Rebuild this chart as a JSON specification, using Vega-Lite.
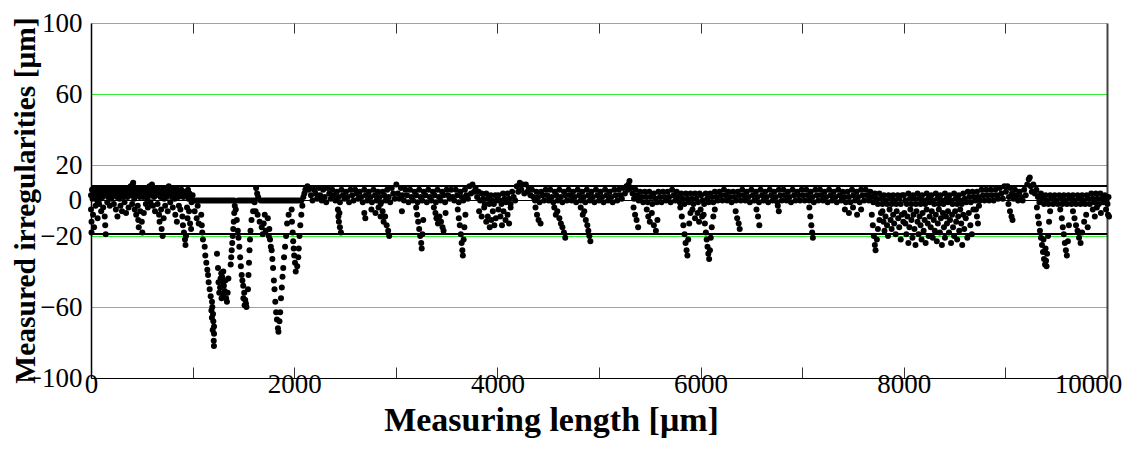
{
"$schema":"https://vega.github.io/schema/vega-lite/v6.json",
"width":1016,"height":355,
"autosize":{"type":"none"},
"padding":{"left":91,"top":23,"right":23,"bottom":71},
"background":"white",
"config":{"view":{"stroke":null},"axis":{"labelColor":"black","titleColor":"black"}},
"datasets":{
"lim":[{"v":8.2},{"v":-18.9}],
"zero":[{"v":0}],
"pts":[
{"x":0,"y":3},{"x":0,"y":-5},{"x":5,"y":-12},{"x":5,"y":-18},{"x":10,"y":6},{"x":15,"y":1},{"x":20,"y":-8},{"x":25,"y":4},{"x":30,"y":-15},{"x":35,"y":6},{"x":40,"y":2},{"x":45,"y":-3},{"x":50,"y":5},{"x":55,"y":7},{"x":60,"y":0},{"x":65,"y":-10},{"x":70,"y":4},{"x":75,"y":6},{"x":80,"y":-2},{"x":85,"y":3},{"x":90,"y":6},{"x":95,"y":1},{"x":100,"y":-6},{"x":105,"y":5},{"x":110,"y":7},{"x":115,"y":2},{"x":120,"y":-4},{"x":125,"y":6},{"x":130,"y":3},{"x":135,"y":-9},{"x":140,"y":-14},{"x":145,"y":-19},{"x":150,"y":4},{"x":155,"y":6},{"x":160,"y":-1},{"x":165,"y":5},{"x":170,"y":2},{"x":175,"y":7},{"x":180,"y":3},{"x":185,"y":-3},{"x":190,"y":5},{"x":195,"y":6},{"x":200,"y":1},{"x":210,"y":4},{"x":220,"y":6},{"x":225,"y":-2},{"x":230,"y":3},{"x":240,"y":5},{"x":245,"y":-5},{"x":250,"y":6},{"x":255,"y":2},{"x":260,"y":-9},{"x":265,"y":4},{"x":270,"y":6},{"x":280,"y":1},{"x":285,"y":5},{"x":290,"y":-3},{"x":295,"y":7},{"x":300,"y":3},{"x":305,"y":-6},{"x":310,"y":5},{"x":320,"y":2},{"x":325,"y":6},{"x":330,"y":-1},{"x":340,"y":4},{"x":345,"y":-7},{"x":350,"y":6},{"x":360,"y":2},{"x":365,"y":5},{"x":370,"y":-4},{"x":380,"y":7},{"x":385,"y":3},{"x":390,"y":8},{"x":400,"y":5},{"x":405,"y":-2},{"x":410,"y":9},{"x":415,"y":10},{"x":420,"y":6},{"x":425,"y":1},{"x":430,"y":-5},{"x":435,"y":4},{"x":440,"y":6},{"x":445,"y":-8},{"x":450,"y":3},{"x":455,"y":5},{"x":460,"y":-3},{"x":465,"y":-11},{"x":470,"y":-15},{"x":475,"y":6},{"x":480,"y":2},{"x":485,"y":-6},{"x":490,"y":4},{"x":495,"y":7},{"x":500,"y":-12},{"x":505,"y":-18},{"x":510,"y":5},{"x":515,"y":2},{"x":520,"y":-7},{"x":525,"y":6},{"x":530,"y":3},{"x":540,"y":-2},{"x":545,"y":5},{"x":550,"y":7},{"x":555,"y":1},{"x":560,"y":-4},{"x":565,"y":6},{"x":570,"y":4},{"x":575,"y":8},{"x":580,"y":3},{"x":585,"y":-1},{"x":590,"y":5},{"x":600,"y":9},{"x":605,"y":4},{"x":610,"y":-3},{"x":615,"y":6},{"x":620,"y":2},{"x":630,"y":-6},{"x":635,"y":5},{"x":640,"y":3},{"x":650,"y":7},{"x":655,"y":-2},{"x":660,"y":4},{"x":665,"y":6},{"x":670,"y":-8},{"x":675,"y":-12},{"x":680,"y":5},{"x":685,"y":2},{"x":690,"y":-5},{"x":695,"y":-16},{"x":700,"y":6},{"x":705,"y":-20},{"x":710,"y":4},{"x":715,"y":-10},{"x":720,"y":1},{"x":725,"y":6},{"x":730,"y":-3},{"x":740,"y":5},{"x":745,"y":2},{"x":750,"y":7},{"x":755,"y":-6},{"x":760,"y":4},{"x":765,"y":8},{"x":770,"y":3},{"x":780,"y":-1},{"x":785,"y":5},{"x":790,"y":6},{"x":800,"y":2},{"x":805,"y":-4},{"x":810,"y":5},{"x":820,"y":7},{"x":825,"y":1},{"x":830,"y":-8},{"x":840,"y":4},{"x":845,"y":-12},{"x":850,"y":6},{"x":860,"y":2},{"x":865,"y":-3},{"x":870,"y":5},{"x":880,"y":-5},{"x":885,"y":3},{"x":890,"y":6},{"x":900,"y":-9},{"x":905,"y":-14},{"x":910,"y":2},{"x":915,"y":-18},{"x":920,"y":5},{"x":925,"y":-22},{"x":930,"y":-25},{"x":935,"y":-20},{"x":940,"y":3},{"x":945,"y":-4},{"x":950,"y":-10},{"x":955,"y":6},{"x":960,"y":1},{"x":965,"y":-6},{"x":970,"y":4},{"x":975,"y":-13},{"x":980,"y":2},{"x":985,"y":-16},{"x":990,"y":-1},{"x":1000,"y":3},
{"x":1010,"y":0},{"x":1030,"y":0},{"x":1050,"y":0},{"x":1070,"y":0},{"x":1090,"y":0},{"x":1110,"y":0},{"x":1130,"y":0},{"x":1150,"y":0},{"x":1170,"y":0},{"x":1190,"y":0},{"x":1210,"y":0},{"x":1230,"y":0},{"x":1250,"y":0},{"x":1270,"y":0},{"x":1290,"y":0},{"x":1310,"y":0},{"x":1330,"y":0},{"x":1350,"y":0},{"x":1370,"y":0},{"x":1390,"y":0},{"x":1410,"y":0},{"x":1450,"y":0},{"x":1470,"y":0},{"x":1490,"y":0},{"x":1510,"y":0},{"x":1530,"y":0},{"x":1550,"y":0},{"x":1570,"y":0},{"x":1590,"y":0},{"x":1610,"y":0},{"x":1670,"y":0},{"x":1690,"y":0},{"x":1710,"y":0},{"x":1730,"y":0},{"x":1750,"y":0},{"x":1770,"y":0},{"x":1790,"y":0},{"x":1810,"y":0},{"x":1830,"y":0},{"x":1850,"y":0},{"x":1870,"y":0},{"x":1890,"y":0},{"x":1910,"y":0},{"x":1930,"y":0},{"x":1950,"y":0},{"x":1970,"y":0},{"x":1990,"y":0},{"x":2010,"y":0},{"x":2030,"y":0},{"x":2050,"y":0},{"x":2070,"y":0},
{"x":1020,"y":-6},{"x":1040,"y":-10},{"x":1060,"y":-13},{"x":1050,"y":-3},{"x":1085,"y":-8},{"x":1090,"y":-14},{"x":1095,"y":-18},{"x":1102,"y":-22},{"x":1119,"y":-26},{"x":1125,"y":-31},{"x":1135,"y":-35},{"x":1145,"y":-39},{"x":1152,"y":-42},{"x":1158,"y":-46},{"x":1168,"y":-50},{"x":1178,"y":-54},{"x":1191,"y":-57},{"x":1194,"y":-60},{"x":1201,"y":-64},{"x":1204,"y":-68},{"x":1211,"y":-71},{"x":1211,"y":-75},{"x":1208,"y":-79},{"x":1210,"y":-82},{"x":1185,"y":-62},{"x":1190,"y":-66},{"x":1198,"y":-73},
{"x":1240,"y":-30},{"x":1250,"y":-38},{"x":1255,"y":-46},{"x":1262,"y":-52},{"x":1270,"y":-49},{"x":1275,"y":-44},{"x":1282,"y":-41},{"x":1290,"y":-43},{"x":1296,"y":-46},{"x":1302,"y":-40},{"x":1308,"y":-48},{"x":1315,"y":-51},{"x":1322,"y":-45},{"x":1330,"y":-55},{"x":1338,"y":-57},{"x":1345,"y":-52},{"x":1352,"y":-44},{"x":1285,"y":-55},{"x":1300,"y":-53},
{"x":1375,"y":-36},{"x":1380,"y":-32},{"x":1385,"y":-28},{"x":1390,"y":-24},{"x":1395,"y":-20},{"x":1400,"y":-16},{"x":1405,"y":-12},{"x":1410,"y":-7},{"x":1415,"y":-3},
{"x":1425,"y":-5},{"x":1435,"y":-11},{"x":1445,"y":-17},{"x":1452,"y":-21},{"x":1460,"y":-26},{"x":1468,"y":-32},{"x":1475,"y":-37},{"x":1483,"y":-42},{"x":1490,"y":-45},{"x":1498,"y":-48},{"x":1508,"y":-52},{"x":1518,"y":-56},{"x":1525,"y":-58},{"x":1530,"y":-60},{"x":1500,"y":-55},{"x":1512,"y":-59},
{"x":1545,"y":-50},{"x":1550,"y":-42},{"x":1555,"y":-35},{"x":1560,"y":-28},{"x":1565,"y":-22},{"x":1570,"y":-17},{"x":1580,"y":-11},{"x":1595,"y":-6},{"x":1610,"y":-1},{"x":1625,"y":7},{"x":1635,"y":4},{"x":1645,"y":2},
{"x":1620,"y":-6},{"x":1640,"y":-8},{"x":1660,"y":-12},{"x":1680,"y":-15},{"x":1690,"y":-19},{"x":1700,"y":-13},{"x":1710,"y":-8},{"x":1720,"y":-17},{"x":1740,"y":-10},{"x":1750,"y":-20},
{"x":1755,"y":-16},{"x":1762,"y":-22},{"x":1770,"y":-26},{"x":1778,"y":-28},{"x":1785,"y":-33},{"x":1792,"y":-38},{"x":1800,"y":-45},{"x":1806,"y":-50},{"x":1814,"y":-57},{"x":1822,"y":-63},{"x":1830,"y":-67},{"x":1840,"y":-72},{"x":1845,"y":-74},{"x":1855,"y":-68},{"x":1862,"y":-63},{"x":1870,"y":-55},{"x":1878,"y":-49},{"x":1885,"y":-43},{"x":1892,"y":-38},{"x":1900,"y":-32},{"x":1910,"y":-26},{"x":1920,"y":-20},{"x":1930,"y":-13},{"x":1945,"y":-8},
{"x":1975,"y":-5},{"x":1978,"y":-12},{"x":1985,"y":-18},{"x":1990,"y":-23},{"x":1995,"y":-27},{"x":2000,"y":-31},{"x":2008,"y":-35},{"x":2015,"y":-40},{"x":2030,"y":-37},{"x":2040,"y":-32},{"x":2045,"y":-27},{"x":2052,"y":-20},{"x":2060,"y":-14},{"x":2070,"y":-8},{"x":2080,"y":-3},{"x":2090,"y":2},{"x":2100,"y":4},{"x":2110,"y":6},{"x":2120,"y":7},{"x":2130,"y":8},{"x":2140,"y":6},
{"x":2150,"y":7},{"x":2165,"y":3},{"x":2180,"y":0},{"x":2195,"y":6},{"x":2210,"y":4},{"x":2225,"y":1},{"x":2240,"y":7},{"x":2255,"y":3},{"x":2270,"y":0},{"x":2285,"y":6},{"x":2300,"y":2},{"x":2315,"y":-1},{"x":2330,"y":7},{"x":2345,"y":4},{"x":2360,"y":1},{"x":2375,"y":6},{"x":2390,"y":3},{"x":2405,"y":0},{"x":2420,"y":5},{"x":2435,"y":2},{"x":2450,"y":-1},{"x":2465,"y":6},{"x":2480,"y":3},{"x":2495,"y":1},{"x":2510,"y":5},{"x":2525,"y":2},{"x":2540,"y":-1},{"x":2555,"y":6},{"x":2570,"y":3},{"x":2585,"y":0},{"x":2600,"y":6},{"x":2615,"y":4},{"x":2630,"y":1},{"x":2645,"y":5},{"x":2660,"y":2},{"x":2675,"y":-1},{"x":2690,"y":6},{"x":2705,"y":3},{"x":2720,"y":0},{"x":2735,"y":5},{"x":2750,"y":2},{"x":2765,"y":-1},{"x":2780,"y":6},{"x":2795,"y":3},{"x":2810,"y":0},{"x":2825,"y":5},{"x":2840,"y":2},{"x":2855,"y":-1},{"x":2870,"y":5},{"x":2885,"y":3},{"x":2900,"y":0},{"x":2915,"y":6},{"x":2930,"y":2},{"x":2945,"y":-1},{"x":2960,"y":7},{"x":2975,"y":4},{"x":2990,"y":1},
{"x":2430,"y":-5},{"x":2435,"y":-9},{"x":2440,"y":-12},{"x":2450,"y":-15},{"x":2460,"y":-18},{"x":2445,"y":-7},{"x":2690,"y":-7},{"x":2700,"y":-10},{"x":2760,"y":-5},{"x":2800,"y":-7},{"x":2830,"y":-4},{"x":2850,"y":-9},{"x":2870,"y":-6},{"x":2880,"y":-12},{"x":2895,"y":-9},{"x":2910,"y":-14},{"x":2925,"y":-17},{"x":2935,"y":-20},{"x":2850,"y":-2},
{"x":3005,"y":9},{"x":3020,"y":4},{"x":3035,"y":1},{"x":3050,"y":7},{"x":3065,"y":3},{"x":3080,"y":0},{"x":3095,"y":6},{"x":3110,"y":3},{"x":3125,"y":-1},{"x":3140,"y":6},{"x":3155,"y":2},{"x":3170,"y":0},{"x":3185,"y":5},{"x":3200,"y":3},{"x":3215,"y":-1},{"x":3230,"y":6},{"x":3245,"y":2},{"x":3260,"y":0},{"x":3275,"y":5},{"x":3290,"y":3},{"x":3305,"y":-1},{"x":3320,"y":6},{"x":3335,"y":2},{"x":3350,"y":0},{"x":3365,"y":5},{"x":3380,"y":3},{"x":3395,"y":-1},{"x":3410,"y":6},{"x":3425,"y":2},{"x":3440,"y":0},{"x":3455,"y":5},{"x":3470,"y":3},{"x":3485,"y":-1},{"x":3500,"y":6},{"x":3515,"y":3},{"x":3530,"y":1},{"x":3545,"y":6},{"x":3560,"y":2},{"x":3575,"y":0},{"x":3590,"y":6},{"x":3605,"y":3},{"x":3620,"y":-1},{"x":3635,"y":5},{"x":3650,"y":2},{"x":3665,"y":0},{"x":3680,"y":6},{"x":3695,"y":3},{"x":3710,"y":1},{"x":3725,"y":8},{"x":3740,"y":4},{"x":3755,"y":9},{"x":3770,"y":5},{"x":3785,"y":7},{"x":3800,"y":2},{"x":3815,"y":5},{"x":3830,"y":0},{"x":3845,"y":4},{"x":3860,"y":1},{"x":3875,"y":-2},{"x":3890,"y":4},{"x":3905,"y":1},{"x":3920,"y":-2},{"x":3935,"y":3},{"x":3950,"y":0},{"x":3965,"y":-2},{"x":3980,"y":3},{"x":3995,"y":0},
{"x":3060,"y":-6},{"x":3200,"y":-4},{"x":3210,"y":-8},{"x":3220,"y":-12},{"x":3230,"y":-16},{"x":3240,"y":-20},{"x":3250,"y":-24},{"x":3255,"y":-27},{"x":3262,"y":-19},{"x":3270,"y":-11},{"x":3375,"y":-4},{"x":3390,"y":-7},{"x":3400,"y":-10},{"x":3415,"y":-13},{"x":3430,"y":-9},{"x":3445,"y":-12},{"x":3460,"y":-15},{"x":3470,"y":-17},{"x":3490,"y":-7},{"x":3610,"y":-5},{"x":3620,"y":-10},{"x":3630,"y":-14},{"x":3640,"y":-19},{"x":3648,"y":-24},{"x":3655,"y":-28},{"x":3660,"y":-31},{"x":3668,"y":-22},{"x":3675,"y":-15},{"x":3685,"y":-8},{"x":3820,"y":-6},{"x":3845,"y":-9},{"x":3870,"y":-4},{"x":3890,"y":-12},{"x":3905,"y":-9},{"x":3925,"y":-15},{"x":3940,"y":-11},{"x":3955,"y":-6},{"x":3970,"y":-14},{"x":3985,"y":-10},
{"x":4010,"y":3},{"x":4025,"y":0},{"x":4040,"y":-2},{"x":4055,"y":4},{"x":4070,"y":1},{"x":4085,"y":-1},{"x":4100,"y":4},{"x":4115,"y":1},{"x":4130,"y":-2},{"x":4145,"y":5},{"x":4160,"y":2},{"x":4175,"y":0},{"x":4190,"y":8},{"x":4205,"y":5},{"x":4220,"y":10},{"x":4235,"y":6},{"x":4250,"y":9},{"x":4265,"y":4},{"x":4280,"y":9},{"x":4295,"y":5},{"x":4310,"y":7},{"x":4325,"y":3},{"x":4340,"y":6},{"x":4355,"y":2},{"x":4370,"y":0},{"x":4385,"y":5},{"x":4400,"y":2},{"x":4415,"y":-1},{"x":4430,"y":5},{"x":4445,"y":3},{"x":4460,"y":0},{"x":4475,"y":6},{"x":4490,"y":3},{"x":4505,"y":0},{"x":4520,"y":6},{"x":4535,"y":2},{"x":4550,"y":-1},{"x":4565,"y":5},{"x":4580,"y":3},{"x":4595,"y":0},{"x":4610,"y":6},{"x":4625,"y":2},{"x":4640,"y":-1},{"x":4655,"y":5},{"x":4670,"y":3},{"x":4685,"y":0},{"x":4700,"y":6},{"x":4715,"y":3},{"x":4730,"y":0},{"x":4745,"y":5},{"x":4760,"y":2},{"x":4775,"y":-1},{"x":4790,"y":6},{"x":4805,"y":3},{"x":4820,"y":0},{"x":4835,"y":5},{"x":4850,"y":2},{"x":4865,"y":-1},{"x":4880,"y":6},{"x":4895,"y":3},{"x":4910,"y":0},{"x":4925,"y":5},{"x":4940,"y":2},{"x":4955,"y":-1},{"x":4970,"y":6},{"x":4985,"y":3},{"x":5000,"y":0},
{"x":4010,"y":-5},{"x":4030,"y":-9},{"x":4045,"y":-14},{"x":4060,"y":-6},{"x":4080,"y":-11},{"x":4100,"y":-8},{"x":4115,"y":-13},{"x":4130,"y":-4},{"x":4375,"y":-4},{"x":4390,"y":-8},{"x":4405,"y":-11},{"x":4425,"y":-13},{"x":4560,"y":-4},{"x":4575,"y":-8},{"x":4590,"y":-6},{"x":4610,"y":-10},{"x":4625,"y":-13},{"x":4640,"y":-15},{"x":4655,"y":-18},{"x":4668,"y":-21},{"x":4820,"y":-4},{"x":4840,"y":-8},{"x":4855,"y":-6},{"x":4870,"y":-11},{"x":4885,"y":-14},{"x":4895,"y":-17},{"x":4905,"y":-20},{"x":4915,"y":-23},
{"x":5015,"y":5},{"x":5030,"y":2},{"x":5045,"y":-1},{"x":5060,"y":6},{"x":5075,"y":3},{"x":5090,"y":0},{"x":5105,"y":5},{"x":5120,"y":2},{"x":5135,"y":-1},{"x":5150,"y":6},{"x":5165,"y":3},{"x":5180,"y":0},{"x":5195,"y":6},{"x":5210,"y":3},{"x":5225,"y":1},{"x":5240,"y":7},{"x":5255,"y":4},{"x":5270,"y":8},{"x":5285,"y":6},{"x":5300,"y":11},{"x":5315,"y":7},{"x":5330,"y":4},{"x":5345,"y":1},{"x":5360,"y":6},{"x":5375,"y":3},{"x":5390,"y":0},{"x":5405,"y":5},{"x":5420,"y":2},{"x":5435,"y":-1},{"x":5450,"y":5},{"x":5465,"y":2},{"x":5480,"y":-1},{"x":5495,"y":5},{"x":5510,"y":2},{"x":5525,"y":-2},{"x":5540,"y":4},{"x":5555,"y":1},{"x":5570,"y":-1},{"x":5585,"y":5},{"x":5600,"y":2},{"x":5615,"y":-1},{"x":5630,"y":5},{"x":5645,"y":2},{"x":5660,"y":0},{"x":5675,"y":5},{"x":5690,"y":2},{"x":5705,"y":-1},{"x":5720,"y":6},{"x":5735,"y":3},{"x":5750,"y":0},{"x":5765,"y":5},{"x":5780,"y":2},{"x":5795,"y":-1},{"x":5810,"y":4},{"x":5825,"y":1},{"x":5840,"y":-2},{"x":5855,"y":4},{"x":5870,"y":1},{"x":5885,"y":-1},{"x":5900,"y":4},{"x":5915,"y":1},{"x":5930,"y":-2},{"x":5945,"y":4},{"x":5960,"y":1},{"x":5975,"y":-1},{"x":5990,"y":4},
{"x":5290,"y":9},{"x":5340,"y":-4},{"x":5355,"y":-8},{"x":5370,"y":-11},{"x":5385,"y":-15},{"x":5470,"y":-5},{"x":5485,"y":-9},{"x":5500,"y":-12},{"x":5520,"y":-7},{"x":5540,"y":-14},{"x":5560,"y":-17},{"x":5575,"y":-11},{"x":5800,"y":-4},{"x":5815,"y":-9},{"x":5830,"y":-14},{"x":5842,"y":-19},{"x":5852,"y":-24},{"x":5862,"y":-28},{"x":5870,"y":-31},{"x":5878,"y":-22},{"x":5888,"y":-13},{"x":5900,"y":-7},{"x":5920,"y":-5},{"x":5945,"y":-10},{"x":5970,"y":-7},{"x":5985,"y":-12},
{"x":6005,"y":3},{"x":6020,"y":0},{"x":6035,"y":-2},{"x":6050,"y":4},{"x":6065,"y":1},{"x":6080,"y":-1},{"x":6095,"y":4},{"x":6110,"y":2},{"x":6125,"y":-1},{"x":6140,"y":5},{"x":6155,"y":2},{"x":6170,"y":0},{"x":6185,"y":5},{"x":6200,"y":3},{"x":6215,"y":0},{"x":6230,"y":6},{"x":6245,"y":3},{"x":6260,"y":0},{"x":6275,"y":5},{"x":6290,"y":2},{"x":6305,"y":-1},{"x":6320,"y":5},{"x":6335,"y":2},{"x":6350,"y":0},{"x":6365,"y":5},{"x":6380,"y":3},{"x":6395,"y":0},{"x":6410,"y":6},{"x":6425,"y":3},{"x":6440,"y":0},{"x":6455,"y":5},{"x":6470,"y":2},{"x":6485,"y":-1},{"x":6500,"y":6},{"x":6515,"y":3},{"x":6530,"y":0},{"x":6545,"y":5},{"x":6560,"y":2},{"x":6575,"y":-1},{"x":6590,"y":6},{"x":6605,"y":3},{"x":6620,"y":0},{"x":6635,"y":5},{"x":6650,"y":2},{"x":6665,"y":-1},{"x":6680,"y":6},{"x":6695,"y":3},{"x":6710,"y":0},{"x":6725,"y":5},{"x":6740,"y":2},{"x":6755,"y":-1},{"x":6770,"y":6},{"x":6785,"y":3},{"x":6800,"y":0},{"x":6815,"y":6},{"x":6830,"y":3},{"x":6845,"y":0},{"x":6860,"y":5},{"x":6875,"y":2},{"x":6890,"y":-1},{"x":6905,"y":6},{"x":6920,"y":3},{"x":6935,"y":0},{"x":6950,"y":5},{"x":6965,"y":3},{"x":6980,"y":0},{"x":6995,"y":6},
{"x":6000,"y":-5},{"x":6015,"y":-9},{"x":6030,"y":-8},{"x":6042,"y":-13},{"x":6052,"y":-18},{"x":6060,"y":-22},{"x":6068,"y":-26},{"x":6076,"y":-30},{"x":6084,"y":-33},{"x":6092,"y":-28},{"x":6100,"y":-21},{"x":6110,"y":-15},{"x":6125,"y":-9},{"x":6140,"y":-5},{"x":6345,"y":-6},{"x":6360,"y":-10},{"x":6375,"y":-13},{"x":6385,"y":-16},{"x":6550,"y":-5},{"x":6565,"y":-9},{"x":6578,"y":-14},{"x":6770,"y":-6},{"x":6760,"y":-3},
{"x":7010,"y":3},{"x":7025,"y":0},{"x":7040,"y":6},{"x":7055,"y":3},{"x":7070,"y":0},{"x":7085,"y":5},{"x":7100,"y":2},{"x":7115,"y":-1},{"x":7130,"y":6},{"x":7145,"y":3},{"x":7160,"y":0},{"x":7175,"y":6},{"x":7190,"y":3},{"x":7205,"y":0},{"x":7220,"y":5},{"x":7235,"y":2},{"x":7250,"y":-1},{"x":7265,"y":6},{"x":7280,"y":3},{"x":7295,"y":0},{"x":7310,"y":5},{"x":7325,"y":2},{"x":7340,"y":-1},{"x":7355,"y":6},{"x":7370,"y":3},{"x":7385,"y":0},{"x":7400,"y":5},{"x":7415,"y":2},{"x":7430,"y":-1},{"x":7445,"y":5},{"x":7460,"y":2},{"x":7475,"y":-1},{"x":7490,"y":6},{"x":7505,"y":3},{"x":7520,"y":0},{"x":7535,"y":5},{"x":7550,"y":2},{"x":7565,"y":-1},{"x":7580,"y":6},{"x":7595,"y":3},{"x":7610,"y":0},{"x":7625,"y":6},{"x":7640,"y":3},{"x":7655,"y":0},{"x":7670,"y":5},{"x":7685,"y":2},{"x":7700,"y":-1},{"x":7715,"y":4},{"x":7730,"y":1},{"x":7745,"y":-2},{"x":7760,"y":4},{"x":7775,"y":1},{"x":7790,"y":-2},{"x":7805,"y":3},{"x":7820,"y":0},{"x":7835,"y":-2},{"x":7850,"y":3},{"x":7865,"y":1},{"x":7880,"y":-2},{"x":7895,"y":3},{"x":7910,"y":0},{"x":7925,"y":-2},{"x":7940,"y":3},{"x":7955,"y":1},{"x":7970,"y":-2},{"x":7985,"y":3},
{"x":7070,"y":-4},{"x":7080,"y":-9},{"x":7090,"y":-14},{"x":7098,"y":-18},{"x":7105,"y":-21},{"x":7420,"y":-5},{"x":7460,"y":-7},{"x":7500,"y":-4},{"x":7540,"y":-8},{"x":7580,"y":-5},{"x":7685,"y":-8},{"x":7695,"y":-14},{"x":7705,"y":-20},{"x":7715,"y":-25},{"x":7722,"y":-28},{"x":7735,"y":-22},{"x":7745,"y":-16},{"x":7760,"y":-11},{"x":7775,"y":-7},{"x":7790,"y":-6},{"x":7800,"y":-12},{"x":7810,"y":-17},{"x":7820,"y":-9},{"x":7835,"y":-14},{"x":7845,"y":-20},{"x":7860,"y":-5},{"x":7870,"y":-11},{"x":7880,"y":-16},{"x":7895,"y":-8},{"x":7905,"y":-13},{"x":7920,"y":-19},{"x":7930,"y":-6},{"x":7945,"y":-10},{"x":7955,"y":-15},{"x":7970,"y":-22},{"x":7980,"y":-8},{"x":7995,"y":-12},
{"x":8000,"y":3},{"x":8015,"y":0},{"x":8030,"y":-2},{"x":8045,"y":4},{"x":8060,"y":1},{"x":8075,"y":-2},{"x":8090,"y":3},{"x":8105,"y":1},{"x":8120,"y":-2},{"x":8135,"y":4},{"x":8150,"y":1},{"x":8165,"y":-2},{"x":8180,"y":3},{"x":8195,"y":0},{"x":8210,"y":-2},{"x":8225,"y":4},{"x":8240,"y":1},{"x":8255,"y":-1},{"x":8270,"y":3},{"x":8285,"y":0},{"x":8300,"y":-2},{"x":8315,"y":4},{"x":8330,"y":1},{"x":8345,"y":-2},{"x":8360,"y":3},{"x":8375,"y":0},{"x":8390,"y":-2},{"x":8405,"y":4},{"x":8420,"y":1},{"x":8435,"y":-1},{"x":8450,"y":3},{"x":8465,"y":0},{"x":8480,"y":-2},{"x":8495,"y":4},{"x":8510,"y":1},{"x":8525,"y":-2},{"x":8540,"y":3},{"x":8555,"y":0},{"x":8570,"y":-2},{"x":8585,"y":4},{"x":8600,"y":1},{"x":8615,"y":-1},{"x":8630,"y":5},{"x":8645,"y":2},{"x":8660,"y":-1},{"x":8675,"y":5},{"x":8690,"y":2},{"x":8705,"y":0},{"x":8720,"y":5},{"x":8735,"y":2},{"x":8750,"y":0},{"x":8765,"y":6},{"x":8780,"y":3},{"x":8795,"y":0},{"x":8810,"y":6},{"x":8825,"y":3},{"x":8840,"y":0},{"x":8855,"y":6},{"x":8870,"y":3},{"x":8885,"y":0},{"x":8900,"y":6},{"x":8915,"y":3},{"x":8930,"y":1},{"x":8945,"y":7},{"x":8960,"y":4},{"x":8975,"y":1},{"x":8990,"y":8},
{"x":8005,"y":-7},{"x":8015,"y":-13},{"x":8025,"y":-19},{"x":8035,"y":-9},{"x":8045,"y":-24},{"x":8055,"y":-15},{"x":8065,"y":-5},{"x":8075,"y":-11},{"x":8085,"y":-21},{"x":8095,"y":-8},{"x":8105,"y":-16},{"x":8115,"y":-25},{"x":8125,"y":-6},{"x":8135,"y":-12},{"x":8145,"y":-19},{"x":8155,"y":-9},{"x":8165,"y":-14},{"x":8175,"y":-22},{"x":8185,"y":-7},{"x":8195,"y":-17},{"x":8205,"y":-11},{"x":8215,"y":-24},{"x":8225,"y":-5},{"x":8235,"y":-13},{"x":8245,"y":-20},{"x":8255,"y":-9},{"x":8265,"y":-15},{"x":8275,"y":-6},{"x":8285,"y":-21},{"x":8295,"y":-11},{"x":8305,"y":-17},{"x":8315,"y":-8},{"x":8325,"y":-23},{"x":8335,"y":-13},{"x":8345,"y":-5},{"x":8355,"y":-18},{"x":8365,"y":-10},{"x":8375,"y":-25},{"x":8385,"y":-7},{"x":8395,"y":-15},{"x":8405,"y":-21},{"x":8415,"y":-9},{"x":8425,"y":-13},{"x":8435,"y":-6},{"x":8445,"y":-18},{"x":8455,"y":-11},{"x":8465,"y":-24},{"x":8475,"y":-8},{"x":8485,"y":-15},{"x":8495,"y":-20},{"x":8505,"y":-6},{"x":8515,"y":-12},{"x":8525,"y":-22},{"x":8535,"y":-9},{"x":8545,"y":-17},{"x":8555,"y":-5},{"x":8565,"y":-13},{"x":8575,"y":-25},{"x":8585,"y":-8},{"x":8595,"y":-16},{"x":8610,"y":-10},{"x":8625,"y":-21},{"x":8640,"y":-7},{"x":8655,"y":-14},{"x":8670,"y":-19},{"x":8685,"y":-5},{"x":8710,"y":-5},{"x":8720,"y":-9},{"x":8730,"y":-13},{"x":8740,"y":-3},{"x":9030,"y":-2},{"x":9045,"y":-6},{"x":9060,"y":-9},{"x":9070,"y":-11},
{"x":9005,"y":5},{"x":9020,"y":8},{"x":9035,"y":2},{"x":9050,"y":7},{"x":9065,"y":4},{"x":9080,"y":1},{"x":9095,"y":6},{"x":9110,"y":3},{"x":9125,"y":0},{"x":9140,"y":5},{"x":9155,"y":2},{"x":9170,"y":0},{"x":9185,"y":6},{"x":9200,"y":3},{"x":9215,"y":9},{"x":9230,"y":12},{"x":9240,"y":13},{"x":9250,"y":8},{"x":9260,"y":5},{"x":9275,"y":9},{"x":9290,"y":4},{"x":9305,"y":6},{"x":9320,"y":2},{"x":9335,"y":-1},{"x":9350,"y":4},{"x":9365,"y":1},{"x":9380,"y":-2},{"x":9395,"y":3},{"x":9410,"y":0},{"x":9425,"y":-2},{"x":9440,"y":3},{"x":9455,"y":1},{"x":9470,"y":-2},{"x":9485,"y":3},{"x":9500,"y":0},{"x":9515,"y":-2},{"x":9530,"y":3},{"x":9545,"y":1},{"x":9560,"y":-2},{"x":9575,"y":3},{"x":9590,"y":0},{"x":9605,"y":-2},{"x":9620,"y":3},{"x":9635,"y":1},{"x":9650,"y":-2},{"x":9665,"y":3},{"x":9680,"y":0},{"x":9695,"y":-2},{"x":9710,"y":3},{"x":9725,"y":1},{"x":9740,"y":-2},{"x":9755,"y":3},{"x":9770,"y":0},{"x":9785,"y":-2},{"x":9800,"y":3},{"x":9815,"y":1},{"x":9830,"y":-2},{"x":9845,"y":4},{"x":9860,"y":1},{"x":9875,"y":-1},{"x":9890,"y":4},{"x":9905,"y":1},{"x":9920,"y":-2},{"x":9935,"y":4},{"x":9950,"y":1},{"x":9965,"y":-1},{"x":9980,"y":3},{"x":9995,"y":0},{"x":10005,"y":-2},{"x":10015,"y":2},
{"x":9310,"y":-4},{"x":9320,"y":-9},{"x":9330,"y":-13},{"x":9340,"y":-17},{"x":9350,"y":-21},{"x":9360,"y":-25},{"x":9370,"y":-29},{"x":9380,"y":-33},{"x":9390,"y":-36},{"x":9400,"y":-34},{"x":9410,"y":-30},{"x":9375,"y":-22},{"x":9395,"y":-27},{"x":9405,"y":-37},{"x":9420,"y":-20},{"x":9430,"y":-12},{"x":9440,"y":-6},{"x":9540,"y":-5},{"x":9555,"y":-10},{"x":9565,"y":-15},{"x":9575,"y":-19},{"x":9585,"y":-24},{"x":9595,"y":-28},{"x":9605,"y":-31},{"x":9615,"y":-23},{"x":9625,"y":-14},{"x":9665,"y":-6},{"x":9680,"y":-10},{"x":9695,"y":-14},{"x":9710,"y":-17},{"x":9725,"y":-21},{"x":9740,"y":-24},{"x":9755,"y":-18},{"x":9775,"y":-12},{"x":9795,"y":-8},{"x":9810,"y":-15},{"x":9860,"y":-5},{"x":9880,"y":-9},{"x":9900,"y":-4},{"x":9940,"y":-7},{"x":9990,"y":-5},{"x":10010,"y":-8},{"x":10020,"y":-9}
]},
"resolve":{"axis":{"x":"independent","y":"independent"}},
"layer":[
{"data":{"name":"lim"},
 "mark":{"type":"rule","color":"black","strokeWidth":2},
 "encoding":{
  "y":{"field":"v","type":"quantitative","scale":{"domain":[-100,100],"nice":false,"zero":false},"axis":{"orient":"right","labels":false,"ticks":false,"grid":false,"domainColor":"#444444","domainWidth":2,"title":null}},
  "x":{"datum":0,"type":"quantitative","scale":{"domain":[0,10000],"nice":false,"zero":false},"axis":{"orient":"top","values":[1000,2000,3000,4000,5000,6000,7000,8000,9000],"labels":false,"tickSize":-10,"tickColor":"#333333","domain":false,"grid":false,"title":null}},
  "x2":{"datum":10000}
 }},
{"data":{"name":"zero"},
 "mark":{"type":"rule","color":"black","strokeWidth":1},
 "encoding":{
  "y":{"field":"v","type":"quantitative","axis":null}
 }},
{"data":{"name":"pts"},
 "mark":{"type":"point","filled":true,"size":36,"color":"black","opacity":1},
 "encoding":{
  "x":{"field":"x","type":"quantitative","scale":{"domain":[0,10000],"nice":false,"zero":false},"axis":{"orient":"bottom","values":[0,1000,2000,3000,4000,5000,6000,7000,8000,9000,10000],"labelExpr":"datum.value % 2000 === 0 ? '' + datum.value : ''","labelFlush":false,"labelFont":"Liberation Serif","labelFontSize":27,"labelPadding":4,"labelOffset":{"condition":{"test":"datum.value === 10000","value":-19},"value":0},"tickSize":-11,"tickColor":"#333333","domainColor":"black","domainWidth":1,"grid":false,"title":"Measuring length [μm]","titleFont":"Liberation Serif","titleFontSize":34,"titleFontWeight":"bold","titleX":460,"titleY":52,"titleBaseline":"alphabetic"}},
  "y":{"field":"y","type":"quantitative","scale":{"domain":[-100,100],"nice":false,"zero":false},"axis":{"orient":"left","values":[-100,-60,-20,20,60,100],"ticks":false,"labelFont":"Liberation Serif","labelFontSize":27,"labelPadding":9,"grid":true,"gridColor":"#33ee33","gridWidth":1,"domainColor":"black","domainWidth":1.5,"title":"Measured irregularities [μm]","titleFont":"Liberation Serif","titleFontSize":29.5,"titleFontWeight":"bold","titleX":-66,"titleY":177,"titleBaseline":"middle"}}
 }},
{"data":{"name":"zero"},
 "mark":{"type":"text","font":"Liberation Serif","fontSize":27,"align":"right","baseline":"middle","dx":-9,"color":"black"},
 "encoding":{
  "y":{"field":"v","type":"quantitative","axis":null},
  "x":{"datum":0,"type":"quantitative","axis":null},
  "text":{"field":"v","type":"quantitative","format":"d"}
 }}
]
}
